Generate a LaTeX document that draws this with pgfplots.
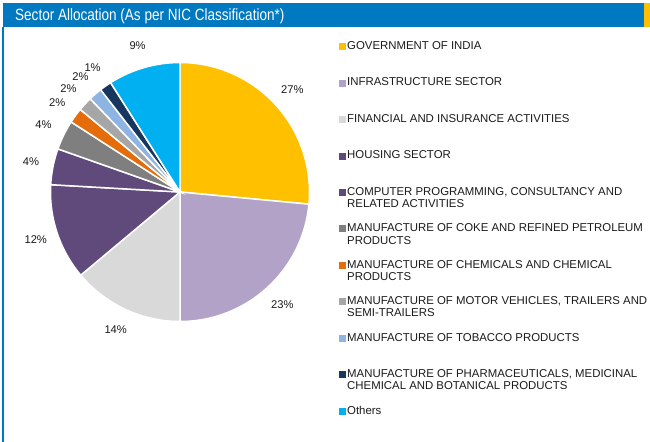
\documentclass[border=0pt]{standalone}
\usepackage{fontspec}
\setmainfont{Liberation Sans}
\usepackage{graphicx}
\usepackage{pgfplots}
\usepackage{pgfplotstable}
\pgfplotsset{compat=1.18}
\definecolor{hdrblue}{HTML}{0079C1}
\definecolor{hdryel}{HTML}{FFC000}
\definecolor{s0}{HTML}{FFC000}
\definecolor{s1}{HTML}{B3A2C7}
\definecolor{s2}{HTML}{D9D9D9}
\definecolor{s3}{HTML}{604A7B}
\definecolor{s4}{HTML}{604A7B}
\definecolor{s5}{HTML}{7F7F7F}
\definecolor{s6}{HTML}{E46C0A}
\definecolor{s7}{HTML}{A6A6A6}
\definecolor{s8}{HTML}{8EB4E3}
\definecolor{s9}{HTML}{17375E}
\definecolor{s10}{HTML}{00B0F0}
\definecolor{txt}{HTML}{1A1A1A}
\newcommand\legfont{\fontsize{11.4bp}{12.4bp}\selectfont}
\newcommand\pctfont{\fontsize{11.2bp}{13bp}\selectfont}
\newcommand\titlefont{\fontsize{16.3bp}{18bp}\selectfont}
\pgfplotstableread{
pct lab
26.5 27
23.5 23
13.9 14
12.0 12
4.5 4
3.7 4
1.9 2
1.8 2
1.7 2
1.5 1
9.0 9
}\pietable
\def\cx{180}
\def\cy{250}
\def\R{129.5}
\def\LR{152}
\pgfplotsset{sq/.style={legend image code/.code={\fill[#1] (0bp,-3bp) rectangle (6bp,3bp);}}}
\begin{document}
\begin{tikzpicture}
\begin{axis}[
  x=1bp, y=1bp, xmin=0, xmax=650, ymin=0, ymax=442,
  hide axis, clip=false,
  legend style={at={(axis cs:339.3,400.7)}, anchor=north west, draw=none, fill=none,
    inner sep=0pt, outer sep=0pt, row sep=26.47bp, column sep=1.5bp, font=\legfont,
    text=txt, nodes={inner sep=0pt, text height=8bp, text depth=2bp}},
  legend cell align=left,
]
% header
\fill[hdrblue] (axis cs:3,439) rectangle (axis cs:644,415.3);
\fill[hdryel] (axis cs:644,439) rectangle (axis cs:650,415.3);
\fill[hdrblue] (axis cs:2,415.3) rectangle (axis cs:4.3,0);
\node[anchor=base west, text=white, inner sep=0pt] at (axis cs:15,421) {\titlefont\scalebox{0.83}[1]{Sector Allocation (As per NIC Classification*)}};
% pie
\xdef\cum{0}
\pgfplotsinvokeforeach{0,...,10}{%
  \pgfplotstablegetelem{#1}{pct}\of\pietable
  \let\pct\pgfplotsretval
  \pgfplotstablegetelem{#1}{lab}\of\pietable
  \let\lab\pgfplotsretval
  \pgfmathsetmacro\a{90-3.6*\cum}
  \pgfmathsetmacro\b{90-3.6*(\cum+\pct)}
  \pgfmathsetmacro\m{(\a+\b)/2}
  \pgfmathsetmacro\sx{\cx+\R*cos(\a)}
  \pgfmathsetmacro\sy{\cy+\R*sin(\a)}
  \pgfmathsetmacro\lx{\cx+\LR*cos(\m)}
  \pgfmathsetmacro\ly{\cy+\LR*sin(\m)}
  \pgfmathsetmacro\newcum{\cum+\pct}
  \xdef\cum{\newcum}
  \edef\temp{\noexpand\addplot[fill=s#1, draw=white, line width=1.5bp, mark=none, forget plot] coordinates {(\cx,\cy)} -- (axis cs:\sx,\sy) arc[start angle=\a, end angle=\b, radius=\R bp] -- cycle;
    \noexpand\node[font=\noexpand\pctfont, text=txt, inner sep=0pt] at (axis cs:\lx,\ly) {\lab\noexpand\%};}%
  \temp
}
% legend
\addlegendimage{sq=s0}\addlegendentry{GOVERNMENT OF INDIA}
\addlegendimage{sq=s1}\addlegendentry{INFRASTRUCTURE SECTOR}
\addlegendimage{sq=s2}\addlegendentry{FINANCIAL AND INSURANCE ACTIVITIES}
\addlegendimage{sq=s3}\addlegendentry{HOUSING SECTOR}
\addlegendimage{sq=s4}\addlegendentry{\begin{tabular}[t]{@{}l@{}}COMPUTER PROGRAMMING, CONSULTANCY AND\\RELATED ACTIVITIES\end{tabular}}
\addlegendimage{sq=s5}\addlegendentry{\begin{tabular}[t]{@{}l@{}}MANUFACTURE OF COKE AND REFINED PETROLEUM\\PRODUCTS\end{tabular}}
\addlegendimage{sq=s6}\addlegendentry{\begin{tabular}[t]{@{}l@{}}MANUFACTURE OF CHEMICALS AND CHEMICAL\\PRODUCTS\end{tabular}}
\addlegendimage{sq=s7}\addlegendentry{\begin{tabular}[t]{@{}l@{}}MANUFACTURE OF MOTOR VEHICLES, TRAILERS AND\\SEMI-TRAILERS\end{tabular}}
\addlegendimage{sq=s8}\addlegendentry{MANUFACTURE OF TOBACCO PRODUCTS}
\addlegendimage{sq=s9}\addlegendentry{\begin{tabular}[t]{@{}l@{}}MANUFACTURE OF PHARMACEUTICALS, MEDICINAL\\CHEMICAL AND BOTANICAL PRODUCTS\end{tabular}}
\addlegendimage{sq=s10}\addlegendentry{Others}
\end{axis}
\pgfresetboundingbox
\useasboundingbox (0,0) rectangle (650bp,442bp);
\end{tikzpicture}
\end{document}
